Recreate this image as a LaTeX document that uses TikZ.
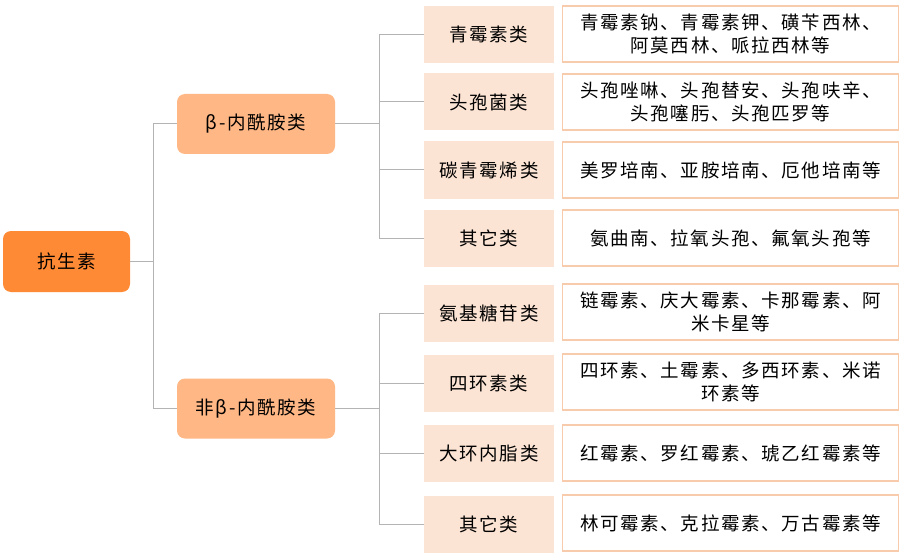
\documentclass[tikz,border=0pt]{standalone}
\usepackage{fontspec}
\newfontfamily\cjk[LetterSpace=9]{Noto Sans CJK SC}
\definecolor{rootc}{HTML}{FF8A35}
\definecolor{midc}{HTML}{FFB785}
\definecolor{catc}{HTML}{FCE4D4}
\definecolor{descb}{HTML}{F8CBAD}
\definecolor{linec}{HTML}{B4B4B4}
\tikzset{
  box/.style={rectangle, inner sep=2pt, align=center, font=\cjk\fontsize{18.5}{22.5}\selectfont, text=black},
  rootbox/.style={box, fill=rootc, rounded corners=8pt, minimum width=127pt, minimum height=61pt},
  midbox/.style={box, fill=midc, rounded corners=8pt, minimum width=158pt, minimum height=60pt},
  catbox/.style={box, fill=catc, minimum width=130pt, minimum height=57pt},
  descbox/.style={box, fill=white, draw=descb, line width=1.5pt, minimum width=336pt, minimum height=56pt},
  conn/.style={draw=linec, line width=1pt},
}
\begin{document}
\begin{tikzpicture}[x=1pt,y=-1pt]
\useasboundingbox[fill=white] (0,0) rectangle (905,559);
\node[rootbox] (root) at (66.5,261.5) {抗生素};
\node[midbox] (beta) at (256,124) {β-内酰胺类};
\node[midbox] (nbeta) at (256,408.5) {非β-内酰胺类};
% categories
\node[catbox] (c1) at (489,34.5) {青霉素类};
\node[catbox] (c2) at (489,102) {头孢菌类};
\node[catbox] (c3) at (489,170) {碳青霉烯类};
\node[catbox] (c4) at (489,238) {其它类};
\node[catbox] (c5) at (489,313) {氨基糖苷类};
\node[catbox] (c6) at (489,383) {四环素类};
\node[catbox] (c7) at (489,453) {大环内脂类};
\node[catbox] (c8) at (489,524) {其它类};
% descriptions
\node[descbox] (d1) at (730.5,34) {青霉素钠、青霉素钾、磺苄西林、\\阿莫西林、哌拉西林等};
\node[descbox] (d2) at (730.5,102) {头孢唑啉、头孢替安、头孢呋辛、\\头孢噻肟、头孢匹罗等};
\node[descbox] (d3) at (730.5,170) {美罗培南、亚胺培南、厄他培南等};
\node[descbox] (d4) at (730.5,238) {氨曲南、拉氧头孢、氟氧头孢等};
\node[descbox] (d5) at (730.5,312) {链霉素、庆大霉素、卡那霉素、阿\\米卡星等};
\node[descbox] (d6) at (730.5,382) {四环素、土霉素、多西环素、米诺\\环素等};
\node[descbox] (d7) at (730.5,453) {红霉素、罗红霉素、琥乙红霉素等};
\node[descbox] (d8) at (730.5,523) {林可霉素、克拉霉素、万古霉素等};
% junctions
\coordinate (j0) at (153,261.5);
\coordinate (j1) at (379,124);
\coordinate (j2) at (379,408.5);
\draw[conn] (root.east) -- (j0);
\draw[conn] (j0) |- (beta.west);
\draw[conn] (j0) |- (nbeta.west);
\draw[conn] (beta.east) -- (j1);
\draw[conn] (j1) |- (c1.west);
\draw[conn] (j1) |- (c2.west);
\draw[conn] (j1) |- (c3.west);
\draw[conn] (j1) |- (c4.west);
\draw[conn] (nbeta.east) -- (j2);
\draw[conn] (j2) |- (c5.west);
\draw[conn] (j2) |- (c6.west);
\draw[conn] (j2) |- (c7.west);
\draw[conn] (j2) |- (c8.west);
\end{tikzpicture}
\end{document}
